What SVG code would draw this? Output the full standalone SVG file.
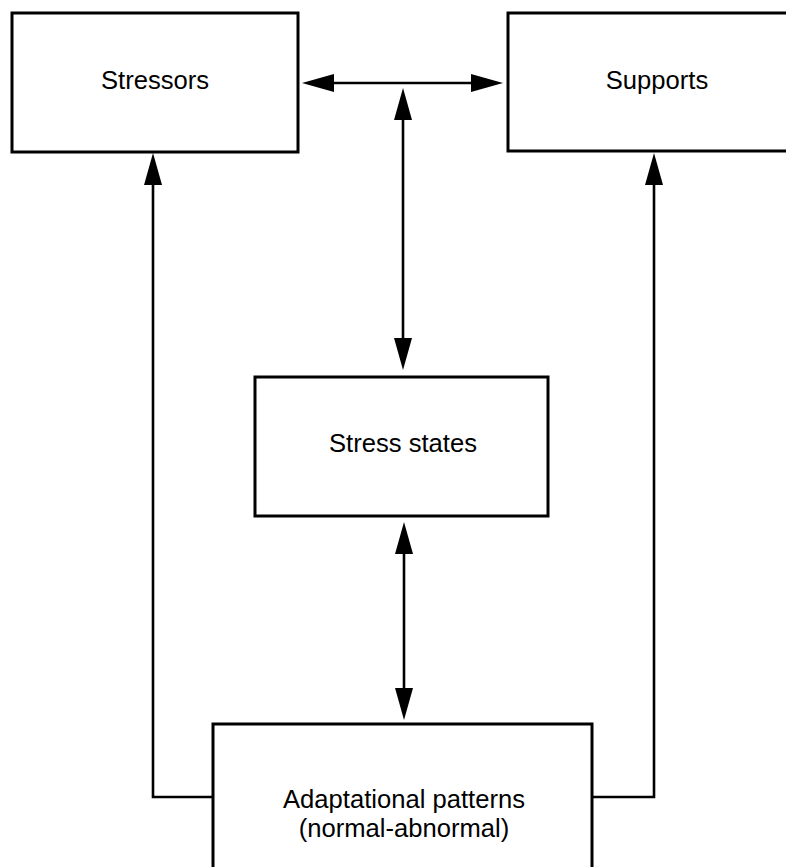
<svg xmlns="http://www.w3.org/2000/svg" width="786" height="867" viewBox="0 0 786 867">
  <style>
    .box { fill: #ffffff; stroke: #000000; stroke-width: 3; }
    .lbl { font-family: "Liberation Sans", Arial, Helvetica, sans-serif; font-size: 25.6px; fill: #000000; text-anchor: middle; }
    .conn { fill: none; stroke: #000000; stroke-width: 2.6; }
  </style>
  <defs>
    <marker id="arrow" viewBox="0 0 32 18" refX="22" refY="9" markerWidth="32" markerHeight="18" markerUnits="userSpaceOnUse" orient="auto-start-reverse">
      <path d="M0,0 L32,9 L0,18 z" fill="#000000"/>
    </marker>
  </defs>
  <rect width="786" height="867" fill="#ffffff"/>

  <g id="connectors">
    <line class="conn" x1="312" y1="83" x2="493" y2="83" marker-start="url(#arrow)" marker-end="url(#arrow)"/>
    <line class="conn" x1="403" y1="98" x2="403" y2="360" marker-start="url(#arrow)" marker-end="url(#arrow)"/>
    <line class="conn" x1="404" y1="532" x2="404" y2="710" marker-start="url(#arrow)" marker-end="url(#arrow)"/>
    <path class="conn" d="M213,797 H153 V163" marker-end="url(#arrow)"/>
    <path class="conn" d="M592,797 H654 V163" marker-end="url(#arrow)"/>
  </g>

  <g id="stressors">
    <rect class="box" x="12" y="13" width="286" height="139"/>
    <text class="lbl" x="155" y="89">Stressors</text>
  </g>

  <g id="supports">
    <rect class="box" x="508" y="13" width="300" height="138"/>
    <text class="lbl" x="657" y="89">Supports</text>
  </g>

  <g id="stress-states">
    <rect class="box" x="255" y="377" width="293" height="139"/>
    <text class="lbl" x="403" y="452">Stress states</text>
  </g>

  <g id="adaptational-patterns">
    <rect class="box" x="213" y="724" width="379" height="170"/>
    <text class="lbl" x="404" y="808">Adaptational patterns</text>
    <text class="lbl" x="404" y="837">(normal-abnormal)</text>
  </g>
</svg>
